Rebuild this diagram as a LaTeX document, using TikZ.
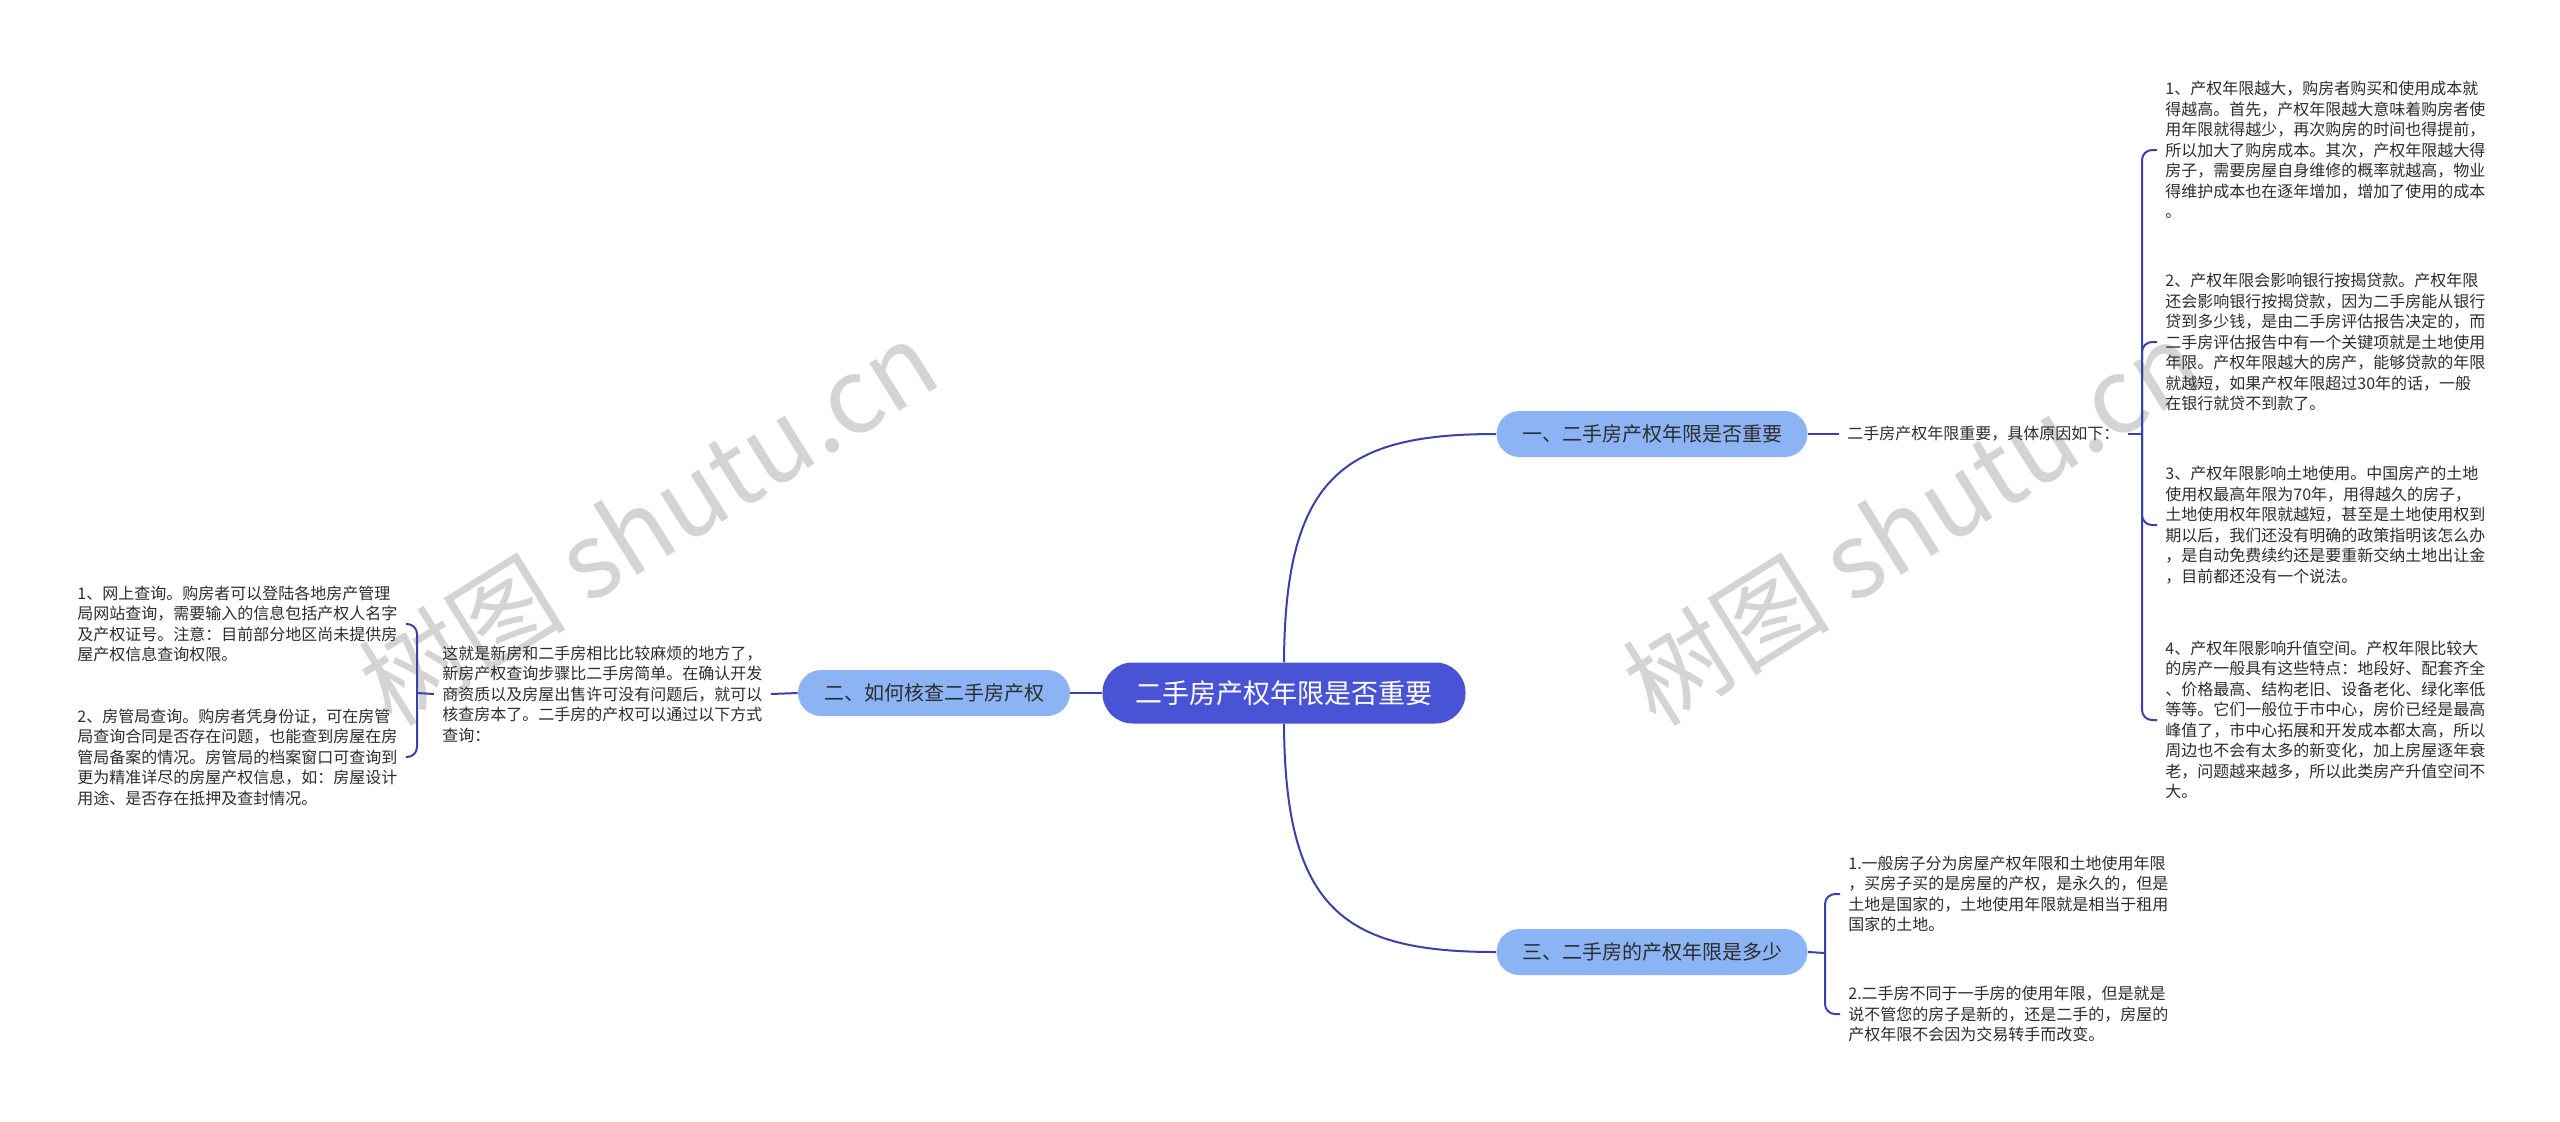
\documentclass[tikz,border=0pt]{standalone}
\usepackage{fontspec}
\setmainfont{Noto Sans CJK SC}
\definecolor{rootc}{RGB}{72,83,214}
\definecolor{branchc}{RGB}{140,180,245}
\definecolor{linec}{RGB}{58,66,168}
\definecolor{txt}{RGB}{45,45,45}
\begin{document}
\begin{tikzpicture}[x=0.5pt,y=-0.5pt,
  root/.style={fill=rootc, text=white, font=\fontsize{13.5}{16}\selectfont, minimum width=181.5pt, minimum height=30.5pt, rounded corners=15pt, inner sep=0pt},
  branch/.style={fill=branchc, text=txt, font=\fontsize{10}{12}\selectfont, minimum height=23pt, rounded corners=11.5pt, inner sep=0pt},
  leaf/.style={text=txt, font=\fontsize{8}{10.25}\selectfont, align=left, inner xsep=4pt, inner ysep=2pt},
  conn/.style={draw=linec, line width=1pt},
  brace/.style={draw=linec, line width=1pt, rounded corners=5pt},
  wm/.style={text=black, opacity=0.17, font=\fontsize{52}{60}\selectfont, inner sep=0pt}]
\useasboundingbox (0,0) rectangle (2560,1121);
\fill[white] (0,0) rectangle (2560,1121);

% watermarks
\node[wm, rotate=32] (w1) at (648,522) {树图 shutu.cn};
\node[wm, rotate=32] (w2) at (1912,522) {树图 shutu.cn};

% main nodes
\node[root] (c) at (1284,693) {二手房产权年限是否重要};
\node[branch, minimum width=155.5pt] (b1) at (1652,434) {一、二手房产权年限是否重要};
\node[branch, minimum width=136pt] (b2) at (934,693) {二、如何核查二手房产权};
\node[branch, minimum width=155.5pt] (b3) at (1652,952) {三、二手房的产权年限是多少};

% right branch 1
\node[leaf, anchor=west] (t1) at (1839,434) {二手房产权年限重要，具体原因如下：};
\coordinate (j1) at (2142,434);
\node[leaf, anchor=west] (r1) at (2157,150) {1、产权年限越大，购房者购买和使用成本就\\得越高。首先，产权年限越大意味着购房者使\\用年限就得越少，再次购房的时间也得提前，\\所以加大了购房成本。其次，产权年限越大得\\房子，需要房屋自身维修的概率就越高，物业\\得维护成本也在逐年增加，增加了使用的成本\\。};
\node[leaf, anchor=west] (r2) at (2157,342) {2、产权年限会影响银行按揭贷款。产权年限\\还会影响银行按揭贷款，因为二手房能从银行\\贷到多少钱，是由二手房评估报告决定的，而\\二手房评估报告中有一个关键项就是土地使用\\年限。产权年限越大的房产，能够贷款的年限\\就越短，如果产权年限超过30年的话，一般\\在银行就贷不到款了。};
\node[leaf, anchor=west] (r3) at (2157,525) {3、产权年限影响土地使用。中国房产的土地\\使用权最高年限为70年，用得越久的房子，\\土地使用权年限就越短，甚至是土地使用权到\\期以后，我们还没有明确的政策指明该怎么办\\，是自动免费续约还是要重新交纳土地出让金\\，目前都还没有一个说法。};
\node[leaf, anchor=west] (r4) at (2157,720) {4、产权年限影响升值空间。产权年限比较大\\的房产一般具有这些特点：地段好、配套齐全\\、价格最高、结构老旧、设备老化、绿化率低\\等等。它们一般位于市中心，房价已经是最高\\峰值了，市中心拓展和开发成本都太高，所以\\周边也不会有太多的新变化，加上房屋逐年衰\\老，问题越来越多，所以此类房产升值空间不\\大。};

% left branch 2
\node[leaf, anchor=west] (l0) at (434,694) {这就是新房和二手房相比比较麻烦的地方了，\\新房产权查询步骤比二手房简单。在确认开发\\商资质以及房屋出售许可没有问题后，就可以\\核查房本了。二手房的产权可以通过以下方式\\查询：};
\coordinate (jL) at (417,693);
\node[leaf, anchor=west] (L1) at (69,624) {1、网上查询。购房者可以登陆各地房产管理\\局网站查询，需要输入的信息包括产权人名字\\及产权证号。注意：目前部分地区尚未提供房\\屋产权信息查询权限。};
\node[leaf, anchor=west] (L2) at (69,757) {2、房管局查询。购房者凭身份证，可在房管\\局查询合同是否存在问题，也能查到房屋在房\\管局备案的情况。房管局的档案窗口可查询到\\更为精准详尽的房屋产权信息，如：房屋设计\\用途、是否存在抵押及查封情况。};

% right branch 3
\coordinate (j3) at (1825,953);
\node[leaf, anchor=west] (s1) at (1840,894) {1.一般房子分为房屋产权年限和土地使用年限\\，买房子买的是房屋的产权，是永久的，但是\\土地是国家的，土地使用年限就是相当于租用\\国家的土地。};
\node[leaf, anchor=west] (s2) at (1840,1014) {2.二手房不同于一手房的使用年限，但是就是\\说不管您的房子是新的，还是二手的，房屋的\\产权年限不会因为交易转手而改变。};

% connectors
\draw[conn] (c.north) .. controls (1285,475) and (1345,434) .. (b1.west);
\draw[conn] (c.south) .. controls (1285,911) and (1345,952) .. (b3.west);
\draw[conn] (c.west) -- (b2.east);

\draw[conn] (b1.east) -- (t1.west);
\draw[conn] (t1.east) -- (j1);
\draw[brace] (j1) |- (r1.west);
\draw[brace] (j1) |- (r2.west);
\draw[brace] (j1) |- (r3.west);
\draw[brace] (j1) |- (r4.west);

\draw[conn] (b2.west) -- (l0.east);
\draw[conn] (l0.west) -- (jL);
\draw[brace] (jL) |- (L1.east);
\draw[brace] (jL) |- (L2.east);

\draw[conn] (b3.east) -- (j3);
\draw[brace] (j3) |- (s1.west);
\draw[brace] (j3) |- (s2.west);
\end{tikzpicture}
\end{document}
